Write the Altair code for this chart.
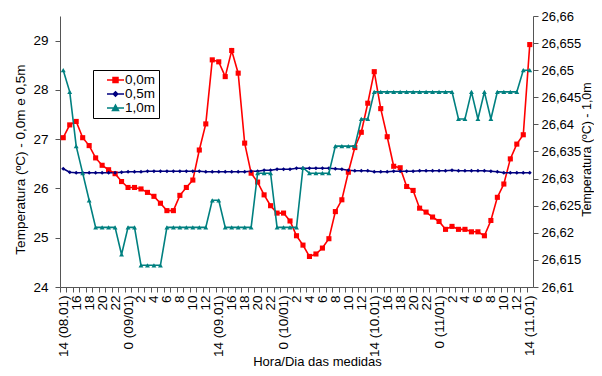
import json
import altair as alt
import pandas as pd

# ---------------- data ----------------
x_labels = ["14 (08.01)", "", "16", "", "18", "", "20", "", "22", "",
            "0 (09/01)", "", "2", "", "4", "", "6", "", "8", "",
            "10", "", "12", "", "14 (09.01)", "", "16", "", "18", "",
            "20", "", "22", "", "0 (10/01)", "", "2", "", "4", "",
            "6", "", "8", "", "10", "", "12", "", "14 (10.01)", "",
            "16", "", "18", "", "20", "", "22", "", "0 (11/01)", "",
            "2", "", "4", "", "6", "", "8", "", "10", "",
            "12", "", "14 (11.01)"]
hour_idx = list(range(len(x_labels)))

t_00 = [27.03, 27.29, 27.36, 27.03, 26.87, 26.62, 26.47, 26.38, 26.30, 26.14,
        26.02, 26.02, 25.99, 25.92, 25.84, 25.70, 25.55, 25.55, 25.86, 26.02,
        26.17, 26.78, 27.31, 28.61, 28.57, 28.27, 28.80, 28.34, 26.92, 26.31,
        26.13, 25.87, 25.65, 25.50, 25.50, 25.34, 25.04, 24.85, 24.62, 24.67,
        24.79, 24.98, 25.53, 25.77, 26.33, 26.83, 27.14, 27.73, 28.37, 27.62,
        27.05, 26.45, 26.42, 26.04, 25.96, 25.60, 25.52, 25.42, 25.33, 25.17,
        25.23, 25.17, 25.17, 25.12, 25.12, 25.04, 25.35, 25.82, 26.09, 26.60,
        26.90, 27.09, 28.92]

t_05 = [26.40, 26.33, 26.32, 26.32, 26.32, 26.32, 26.32, 26.32, 26.32, 26.33,
        26.34, 26.34, 26.34, 26.35, 26.35, 26.35, 26.35, 26.35, 26.35, 26.35,
        26.35, 26.35, 26.34, 26.34, 26.34, 26.34, 26.34, 26.34, 26.34, 26.35,
        26.35, 26.37, 26.37, 26.39, 26.39, 26.39, 26.41, 26.41, 26.41, 26.41,
        26.41, 26.41, 26.40, 26.39, 26.37, 26.36, 26.36, 26.36, 26.34, 26.34,
        26.34, 26.35, 26.35, 26.35, 26.35, 26.36, 26.36, 26.36, 26.36, 26.36,
        26.37, 26.36, 26.36, 26.36, 26.36, 26.36, 26.35, 26.34, 26.32, 26.32,
        26.32, 26.32, 26.32]

t_10 = [26.650, 26.646, 26.636, 26.631, 26.626, 26.621, 26.621, 26.621, 26.621, 26.616,
        26.621, 26.621, 26.614, 26.614, 26.614, 26.614, 26.621, 26.621, 26.621, 26.621,
        26.621, 26.621, 26.621, 26.626, 26.626, 26.621, 26.621, 26.621, 26.621, 26.621,
        26.631, 26.631, 26.631, 26.621, 26.621, 26.621, 26.621, 26.632, 26.631, 26.631,
        26.631, 26.631, 26.636, 26.636, 26.636, 26.636, 26.641, 26.641, 26.646, 26.646,
        26.646, 26.646, 26.646, 26.646, 26.646, 26.646, 26.646, 26.646, 26.646, 26.646,
        26.646, 26.641, 26.641, 26.646, 26.641, 26.646, 26.641, 26.646, 26.646, 26.646,
        26.646, 26.650, 26.650]

series_names = ["0,0m", "0,5m", "1,0m"]
series_colors = ["#ff0000", "#000080", "#008080"]

left_ticks = [24, 25, 26, 27, 28, 29]
right_ticks = [26.61, 26.615, 26.62, 26.625, 26.63, 26.635, 26.64, 26.645, 26.65, 26.655, 26.66]

df = pd.DataFrame({
    "i": hour_idx * 3,
    "serie": [series_names[0]] * len(t_00) + [series_names[1]] * len(t_05) + [series_names[2]] * len(t_10),
    "temp": t_00 + t_05 + t_10,
})

# ---------------- layout ----------------
PLOT_W, PLOT_H = 473, 271
band = PLOT_W / len(hour_idx)
FONT = "Liberation Sans"
AX = "#555555"

x_scale = alt.Scale(domain=[-0.5, len(hour_idx) - 0.5], nice=False, zero=False)
left_scale = alt.Scale(domain=[24, 29.5], nice=False, zero=False)
right_scale = alt.Scale(domain=[26.61, 26.66], nice=False, zero=False)

x_axis = alt.Axis(
    values=hour_idx,
    labelExpr=json.dumps(x_labels) + "[datum.value]",
    labelAngle=270, labelAlign="right", labelBaseline="middle",
    labelPadding=3, labelOverlap=False, labelFlush=False,
    tickSize=5, tickOffset=-band / 2, labelOffset=band / 2,
    title="Hora/Dia das medidas", titleFontSize=13,
    titleX=257, titleY=78, titleAlign="center", titleBaseline="alphabetic",
)
left_axis = alt.Axis(
    orient="left", values=left_ticks, format="d", tickSize=5, labelPadding=7,
    title="Temperatura (ºC) - 0,0m e 0,5m", titleFontSize=13.5,
    titleAngle=270, titleX=-40, titleY=143, titleAlign="center", titleBaseline="middle",
)
right_axis = alt.Axis(
    orient="right", values=right_ticks, tickSize=5, labelPadding=3, labelFontSize=13,
    labelExpr="replace(format(datum.value, '.3~f'), '.', ',')",
    title="Temperatura (ºC) - 1,0m", titleFontSize=12.5,
    titleAngle=270, titleX=60, titleY=133, titleAlign="center", titleBaseline="bottom",
)

base = alt.Chart(df)


def line_layer(name, color, yscale, yaxis):
    return base.transform_filter(alt.datum.serie == name).mark_line(
        color=color, strokeWidth=1.6
    ).encode(
        x=alt.X("i:Q", scale=x_scale, axis=x_axis),
        y=alt.Y("temp:Q", scale=yscale, axis=yaxis),
    )


def point_layer(name, color, shape, size, yscale, yaxis):
    return base.transform_filter(alt.datum.serie == name).mark_point(
        shape=shape, filled=True, size=size, color=color, opacity=1
    ).encode(
        x=alt.X("i:Q", scale=x_scale, axis=x_axis),
        y=alt.Y("temp:Q", scale=yscale, axis=yaxis),
    )


red_line = line_layer(series_names[0], series_colors[0], left_scale, left_axis)
navy_line = line_layer(series_names[1], series_colors[1], left_scale, left_axis)
teal_line = line_layer(series_names[2], series_colors[2], right_scale, right_axis)
red_pts = point_layer(series_names[0], series_colors[0], "square", 26, left_scale, left_axis)
navy_pts = point_layer(series_names[1], series_colors[1], "diamond", 16, left_scale, left_axis)
teal_pts = point_layer(series_names[2], series_colors[2], "triangle-up", 24, right_scale, right_axis)

# legend symbols: a short line with the marker in its middle
legend_paths = [
    "M0.667,0L3.5,0M1.667,-0.417H2.5V0.417H1.667Z",
    "M0.667,0L3.5,0M2.083,-0.367L2.45,0L2.083,0.367L1.717,0Z",
    "M0.667,0L3.5,0M2.083,-0.5L2.583,0.417L1.583,0.417Z",
]
leg = alt.Legend(
    title=None, orient="none", legendX=33, legendY=54,
    symbolSize=144, symbolStrokeWidth=1.5, symbolOpacity=1,
    rowPadding=0, padding=3, labelOffset=15,
    labelFontSize=13.5, labelFont=FONT, labelColor="#000000",
    labelExpr="datum.label + '\u00a0\u00a0\u00a0'",
    strokeColor="#000000", fillColor="#ffffff", cornerRadius=0,
)
legend_layer = base.transform_filter("false").mark_point(filled=True).encode(
    fill=alt.Fill("serie:N", scale=alt.Scale(domain=series_names, range=series_colors), legend=leg),
    stroke=alt.Stroke("serie:N", scale=alt.Scale(domain=series_names, range=series_colors), legend=leg),
    shape=alt.Shape("serie:N", scale=alt.Scale(domain=series_names, range=legend_paths), legend=leg),
)

left = alt.layer(red_line, navy_line, red_pts, navy_pts, legend_layer)
right = alt.layer(teal_line, teal_pts)

chart = alt.layer(left, right).resolve_scale(y="independent").properties(
    width=PLOT_W, height=PLOT_H,
    padding={"left": 52, "top": 8, "right": 61, "bottom": 81},
    autosize=alt.AutoSizeParams(type="none"),
    background="#ffffff",
).configure_view(stroke=None).configure_axis(
    grid=False, domainColor=AX, tickColor=AX, domainWidth=1, tickWidth=1,
    labelFont=FONT, labelFontSize=13.5, labelColor="#000000",
    titleFont=FONT, titleFontWeight="normal", titleColor="#000000",
)

chart.save("out.html", embed_options={"renderer": "svg", "actions": False})
